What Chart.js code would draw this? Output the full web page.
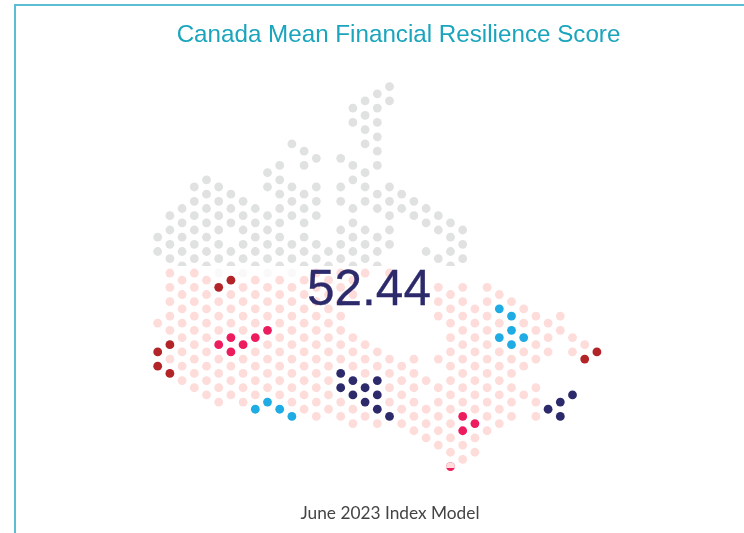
<!DOCTYPE html>
<html>
<head>
<meta charset="utf-8">
<title>Canada Mean Financial Resilience Score</title>
<script src="https://cdn.jsdelivr.net/npm/chart.js@4"></script>
<style>
  html, body { margin: 0; padding: 0; background: #fff; overflow: hidden; }
  #page { position: relative; width: 744px; height: 533px; }
  #frame { position: absolute; left: 14px; top: 4px; right: 0; bottom: 0; border-left: 2px solid #5bbdd3; border-top: 2px solid #5bbdd3; }
  #chartWrap { position: absolute; left: 0; top: 0; width: 744px; height: 533px; }
  .label { position: absolute; left: 0; white-space: nowrap; text-align: center; }
  #title { top: 20px; width: 797px; font: 24.2px "Liberation Sans", sans-serif; color: #1aa5bd; }
  #score { top: 259px; width: 738px; font: 49.5px "Liberation Sans", sans-serif; color: #2c2a6b; -webkit-text-stroke: 0.3px #2c2a6b; }
  #note { top: 502px; width: 780px; font: 17.3px Lato, sans-serif; color: #444; }
</style>
</head>
<body>
<div id="page">
  <div id="frame"></div>
  <div id="chartWrap"><canvas id="mapChart" width="744" height="533"></canvas></div>
  <div class="label" id="title">Canada Mean Financial Resilience Score</div>
  <div class="label" id="score">52.44</div>
  <div class="label" id="note">June 2023 Index Model</div>
</div>
<script>
// Dot map of Canada on a hex grid: x = grid column, y = half-row (down the page)
// Each *Rows array is indexed by column, and lists the rows that have a dot

const greyRows = [
  [-5, -3],
  [-8, -6, -4, -2],
  [-9, -7, -5, -3, -1],
  [-12, -10, -8, -6, -4, -2],
  [-13, -11, -9, -7, -5, -3, -1],
  [-12, -10, -8, -6, -4, -2],
  [-11, -9, -7, -3, -1],
  [-10, -8, -6, -4, -2],
  [-9, -7, -5, -3, -1],
  [-14, -12, -8, -6, -4, -2],
  [-15, -13, -11, -9, -7, -5, -3, -1],
  [-18, -12, -10, -8, -4, -2],
  [-17, -15, -11, -9, -7, -5, -3, -1],
  [-16, -12, -10, -8, -4, -2],
  [-3, -1],
  [-16, -12, -10, -6, -4, -2],
  [-23, -21, -15, -13, -9, -7, -5, -3, -1],
  [-24, -22, -20, -18, -14, -12, -10, -6, -4, -2],
  [-25, -23, -21, -19, -17, -15, -11, -9, -5, -3, -1],
  [-26, -24, -12, -10, -8, -6, -4],
  [-11, -9],
  [-10, -8],
  [-9, -7, -3],
  [-8, -6, -2],
  [-7, -5, -3, -1],
  [-6, -4, -2]
];

const pinkRows = [
  [7],
  [0, 2, 4, 6, 8, 12],
  [1, 3, 5, 7, 9, 11, 13, 15],
  [0, 2, 4, 6, 8, 10, 12, 14, 16],
  [1, 3, 5, 7, 9, 11, 13, 15, 17],
  [4, 6, 8, 12, 14, 16, 18],
  [3, 5, 7, 13, 15, 17],
  [2, 4, 6, 8, 12, 14, 16, 18],
  [1, 3, 5, 7, 11, 13, 15, 17],
  [2, 4, 6, 10, 12, 14, 16],
  [1, 3, 5, 7, 9, 11, 13, 15, 17],
  [2, 4, 6, 8, 10, 12, 14, 16, 18],
  [1, 3, 5, 7, 9, 11, 13, 15, 17, 19],
  [0, 2, 4, 6, 8, 10, 12, 14, 16, 18, 20],
  [1, 3, 5, 7, 9, 11, 13, 15, 17, 19],
  [0, 2, 4, 6, 8, 10, 12, 18, 20],
  [1, 3, 9, 11, 13, 19, 21],
  [0, 10, 12, 14, 20],
  [11, 13, 21],
  [0, 12, 14, 16, 18],
  [13, 15, 17, 19, 21],
  [12, 14, 16, 18, 20, 22],
  [15, 19, 21, 23],
  [2, 4, 6, 12, 16, 18, 20, 22, 24],
  [3, 5, 7, 9, 11, 13, 15, 17, 19, 21, 23, 25, 27],
  [2, 4, 6, 8, 10, 12, 14, 16, 18, 24, 26],
  [5, 7, 9, 11, 13, 15, 17, 19, 23, 25],
  [2, 4, 6, 8, 10, 12, 14, 16, 18, 20, 22],
  [3, 7, 11, 13, 15, 17, 19, 21],
  [4, 12, 14, 16, 18, 20],
  [5, 7, 11, 13, 17],
  [6, 8, 10, 12, 16, 18, 20],
  [7, 9, 11],
  [6, 8],
  [9, 11],
  [10]
];

const fadedPoints = [[5, 0], [7, 0], [9, 0], [11, 0]];
const redPoints = [[0, 11], [0, 13], [1, 10], [1, 14], [5, 2], [6, 1], [35, 12], [36, 11]];
const crimsonPoints = [[5, 10], [6, 9], [6, 11], [7, 10], [8, 9], [9, 8], [25, 20], [25, 22], [26, 21], [24, 27]];
const navyPoints = [[15, 14], [15, 16], [16, 15], [16, 17], [17, 16], [17, 18], [18, 15], [18, 17], [18, 19], [19, 20], [32, 19], [33, 18], [33, 20], [34, 17]];
const bluePoints = [[8, 19], [9, 18], [10, 19], [11, 20], [28, 5], [28, 9], [29, 6], [29, 8], [29, 10], [30, 9]];

function fromRows(rows) {
  const pts = [];
  rows.forEach((list, col) => list.forEach(row => pts.push({ x: col, y: row })));
  return pts;
}

function fromPairs(pairs) {
  return pairs.map(p => ({ x: p[0], y: p[1] }));
}

function dots(label, data, color, clipBottom) {
  return {
    label: label,
    data: data,
    backgroundColor: color,
    borderWidth: 0,
    pointRadius: 4.4,
    pointHoverRadius: 4.4,
    clip: { left: 0, top: 0, right: 0, bottom: clipBottom || 0 }
  };
}

new Chart(document.getElementById('mapChart'), {
  type: 'scatter',
  data: {
    // first dataset is painted last, so pink sits over the crimson tip dot
    datasets: [
      dots('Pink', fromRows(pinkRows), '#fddcda', -3),
      dots('Red', fromPairs(redPoints), '#b22427'),
      dots('Crimson', fromPairs(crimsonPoints), '#ed1c5f'),
      dots('Navy', fromPairs(navyPoints), '#2c2a6b'),
      dots('Blue', fromPairs(bluePoints), '#1fabe3'),
      dots('Grey', fromRows(greyRows), '#e0e1e1', -205),
      dots('Faded', fromPairs(fadedPoints), '#f9f9f9')
    ]
  },
  options: {
    responsive: false,
    animation: false,
    layout: { autoPadding: false, padding: { bottom: 62 } },
    plugins: { legend: { display: false }, tooltip: { enabled: false } },
    scales: {
      x: { type: 'linear', display: false, bounds: 'data', min: -12.926, max: 48.057 },
      y: { type: 'linear', display: false, bounds: 'data', reverse: true, min: -38.08, max: 27.615 }
    }
  }
});
</script>
</body>
</html>
